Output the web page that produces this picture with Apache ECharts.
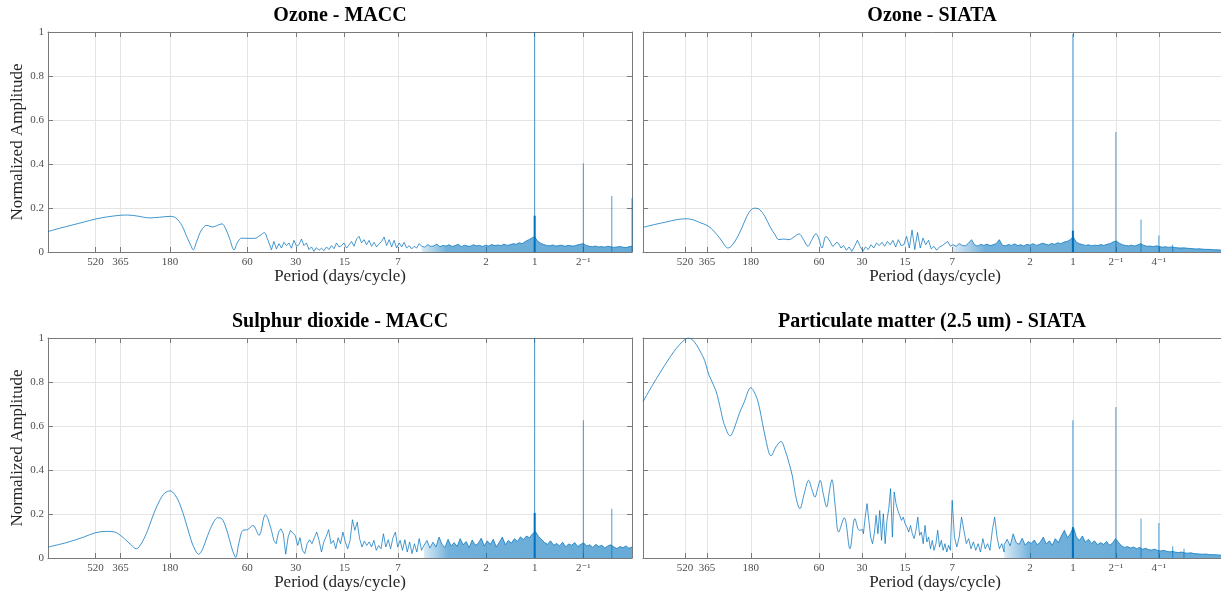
<!DOCTYPE html>
<html>
<head>
<meta charset="utf-8">
<title>Normalized amplitude spectra</title>
<script src="https://cdn.jsdelivr.net/npm/echarts@6/dist/echarts.min.js"></script>
<style>
  html, body { margin: 0; padding: 0; background: #fff; }
  #main { width: 1221px; height: 595px; }
</style>
</head>
<body>
<div id="main"></div>
<script>
// Period ticks under each panel (days/cycle)
const tickPeriods = [520, 365, 180, 60, 30, 15, 7, 2, 1, 0.5, 0.25]
const tickLabels = ['520', '365', '180', '60', '30', '15', '7', '2', '1', '2⁻¹', '4⁻¹']

const titles = ['Ozone - MACC', 'Ozone - SIATA', 'Sulphur dioxide - MACC', 'Particulate matter (2.5 um) - SIATA']
// longest / shortest period of each panel (MACC is 3-hourly, SIATA hourly)
const longestPeriod = [1024, 1024, 1024, 1024]
const shortestPeriod = [0.25, 1 / 12, 0.25, 1 / 12]

// ---- Ozone - MACC ----
// [period, amplitude] on the smooth low-frequency part
const ozoneMaccSmooth = [[1024, .093], [867, .108], [731, .122], [616, .136], [520, .150], [437, .160], [365, .167], [329, .168], [285, .163], [241, .155], [209, .158], [180, .162], [166, .155], [152, .12], [142, .07], [134, .03], [129.5, .01], [123, .05], [115, .10], [107, .121], [98, .114], [91, .122], [86, .128], [81.5, .105], [77, .06], [72.4, .01], [68.7, .045], [65, .063], [59.6, .062], [54, .062], [50, .075], [47, .088], [45, .06], [42.5, .01]]
// noisy parts: amplitudes in thousandths, evenly spread between two periods
const ozoneMaccWiggle = [{ from: 42.5, to: 5.0, amp: [10, 48, 14, 38, 18, 44, 29, 41, 17, 53, 26, 33, 59, 29, 41, 11, 23, 3, 20, 8, 17, 6, 23, 11, 29, 15, 41, 23, 29, 41, 18, 33, 48, 26, 59, 71, 41, 56, 33, 53, 26, 44, 23, 38, 48, 68, 29, 56, 23, 53, 18, 41, 23, 44, 18, 29, 14, 26, 18, 38, 26] }]
const ozoneMaccBand = { from: 5.0, to: 0.25, amp: [30, 22, 34, 25, 28, 36, 24, 30, 27, 33, 25, 29, 35, 24, 31, 27, 26, 33, 28, 30, 25, 31, 27, 34, 29, 32, 28, 36, 30, 33, 38, 35, 42, 38, 48, 55, 62, 70, 50, 40, 34, 30, 28, 32, 27, 29, 31, 26, 30, 28, 27, 32, 35, 38, 30, 26, 24, 27, 23, 25, 22, 26, 24, 21, 23, 25, 22, 20, 24, 26] }
const ozoneMaccSpikes = [[1, 1.0], [0.5, .403], [1 / 3, .255], [0.25, .245]]
const ozoneMaccCore = [[1, .165]]

// ---- Ozone - SIATA ----
const ozoneSiataSmooth = [[1024, .112], [848, .125], [698, .137], [594, .147], [514, .151], [459, .147], [410, .134], [360, .119], [327, .095], [297, .063], [278, .036], [261, .018], [244.5, .029], [225.5, .063], [208, .109], [192, .162], [177, .195], [166, .199], [155.6, .192], [143.5, .162], [132.4, .116], [122, .079], [114.5, .056], [105.6, .059], [97.4, .056], [89.8, .068], [82.9, .082], [76.5, .053], [71.7, .026], [67.2, .056], [63, .083], [60, .059], [57.2, .018], [53.6, .071], [50.2, .048], [47.9, .026], [44.9, .044], [42.1, .018]]
const ozoneSiataWiggle = [{ from: 42.1, to: 6.9, amp: [18, 29, 8, 23, 3, 26, 53, 26, 3, 23, 11, 33, 18, 41, 29, 44, 26, 48, 33, 53, 23, 56, 29, 33, 71, 18, 100, 11, 89, 18, 63, 33, 53, 14, 26, 8, 23, 29, 38, 48, 26, 33] }]
const ozoneSiataBand = { from: 6.9, to: 1 / 12, amp: [33, 26, 38, 30, 28, 40, 56, 32, 27, 35, 30, 36, 29, 33, 38, 56, 31, 28, 34, 30, 37, 29, 33, 27, 35, 31, 38, 30, 34, 40, 36, 32, 39, 35, 42, 38, 45, 48, 55, 70, 45, 38, 34, 30, 33, 28, 31, 29, 34, 30, 35, 38, 46, 50, 40, 33, 30, 28, 31, 27, 32, 38, 30, 26, 27, 24, 28, 25, 22, 24, 21, 23, 20, 19, 18, 19, 17, 16, 15, 14, 15, 13, 12, 12, 11, 10, 10, 9, 9, 8] }
const ozoneSiataSpikes = [[1, .99], [0.5, .545], [1 / 3, .147], [0.25, .075], [0.2, .033]]
const ozoneSiataCore = [[1, .097]]

// ---- Sulphur dioxide - MACC ----
const so2MaccSmooth = [[1024, .05], [867, .062], [731, .077], [616, .095], [520, .115], [444, .121], [396, .118], [365, .103], [339, .083], [315, .061], [291, .042], [270, .068], [247.6, .126], [227, .202], [208.6, .262], [194.3, .295], [180, .305], [168.6, .289], [157, .247], [144, .164], [132.3, .073], [125, .032], [119.7, .017], [113, .042], [105.3, .103], [96.7, .164], [91.3, .183], [86.3, .179], [81.5, .141], [77, .08], [73.8, .032], [70.7, .003], [67.7, .065], [63.7, .126], [59.6, .129], [55.3, .148], [50.7, .103], [46.3, .197], [44.6, .178]]
const so2MaccWiggle = [{ from: 42.5, to: 4.84, amp: [126, 80, 65, 118, 133, 110, 17, 95, 126, 113, 103, 57, 92, 35, 20, 65, 83, 65, 92, 118, 80, 27, 73, 98, 129, 65, 80, 42, 92, 65, 118, 73, 42, 80, 174, 126, 163, 88, 50, 77, 57, 73, 50, 80, 35, 57, 42, 110, 50, 83, 42, 92, 118, 50, 80, 35, 83, 27, 73, 20, 65, 27, 88, 35, 57] }]
const so2MaccBand = { from: 4.84, to: 0.25, amp: [57, 80, 45, 72, 50, 95, 62, 48, 85, 55, 70, 52, 88, 60, 75, 47, 82, 58, 66, 90, 54, 78, 62, 85, 50, 72, 95, 60, 80, 68, 88, 75, 96, 84, 100, 92, 110, 120, 98, 85, 70, 62, 78, 58, 66, 55, 72, 50, 64, 58, 70, 52, 62, 68, 55, 60, 48, 62, 52, 58, 45, 55, 60, 50, 42, 52, 47, 55, 44, 50] }
const so2MaccSpikes = [[1, 1.0], [0.5, .626], [1 / 3, .224]]
const so2MaccCore = [[1, .205]]

// ---- Particulate matter (2.5 um) - SIATA ----
const pmSiataSmooth = [[1024, .71], [880, .785], [673, .906], [573, .967], [492, 1.0], [392.5, .92], [352.7, .83], [316.6, .762], [292, .671], [277, .61], [251, .555], [235.6, .588], [217, .656], [200.5, .708], [180, .774], [166, .739], [157, .686], [141, .535], [130, .464], [120, .505], [110.8, .53], [103.4, .489], [97, .429], [91.8, .368], [88, .292], [81.6, .224], [76.1, .292], [70.9, .353], [67.5, .315], [64, .277], [61.3, .315], [58.8, .353], [56, .292], [53, .232], [50.8, .3], [48.7, .356], [46.1, .232], [43.7, .118], [39.9, .183], [36.4, .042], [33.6, .179], [31.3, .126], [29.6, .129]]
const pmSiataWiggle = [
  { from: 29.3, to: 7, amp: [110, 186, 247, 171, 95, 65, 110, 194, 110, 216, 80, 201, 65, 171, 224, 315, 95, 300, 247, 216, 194, 171, 186, 156, 141, 118, 148, 110, 88, 126, 186, 103, 118, 65, 148, 73, 95, 42, 80, 35, 65, 126, 50, 80, 35, 65, 27, 58, 35, 262] },
  { from: 6.75, to: 3.03, amp: [95, 50, 95, 186, 126, 65, 88, 42, 73, 35, 65, 27, 88, 42, 65, 35, 126, 186, 95, 42, 65, 27] },
]
const pmSiataBand = { from: 3.03, to: 1 / 12, amp: [60, 85, 55, 110, 70, 62, 90, 58, 75, 66, 82, 60, 72, 95, 64, 78, 58, 88, 70, 100, 126, 92, 110, 140, 95, 80, 100, 72, 85, 66, 78, 60, 70, 62, 75, 58, 68, 88, 70, 55, 48, 52, 45, 50, 42, 48, 40, 44, 38, 36, 40, 34, 32, 35, 30, 28, 30, 26, 25, 27, 23, 22, 24, 20, 19, 18, 17, 18, 16, 15, 15, 14, 13, 13, 12] }
const pmSiataSpikes = [[1, .626], [0.5, .686], [1 / 3, .179], [0.25, .159], [0.2, .053], [1 / 6, .042]]
const pmSiataCore = [[1, .14]]

const panels = [
  { smooth: ozoneMaccSmooth, wiggle: ozoneMaccWiggle, band: ozoneMaccBand, spikes: ozoneMaccSpikes, core: ozoneMaccCore },
  { smooth: ozoneSiataSmooth, wiggle: ozoneSiataWiggle, band: ozoneSiataBand, spikes: ozoneSiataSpikes, core: ozoneSiataCore },
  { smooth: so2MaccSmooth, wiggle: so2MaccWiggle, band: so2MaccBand, spikes: so2MaccSpikes, core: so2MaccCore },
  { smooth: pmSiataSmooth, wiggle: pmSiataWiggle, band: pmSiataBand, spikes: pmSiataSpikes, core: pmSiataCore },
]

const serif = "'Liberation Serif', 'DejaVu Serif', serif"
const blue = '#0072BD'
const axisGray = '#7a7a7a'
const gridGray = '#e4e4e4'

// x axis is log2 of frequency (cycles/day), period decreases to the right
function toX(period) {
  return Math.log2(1 / period)
}

function spread(seg) {
  const a = toX(seg.from)
  const b = toX(seg.to)
  const n = seg.amp.length
  return seg.amp.map((v, i) => [a + (b - a) * i / (n - 1), v / 1000])
}

function spikeData(list) {
  let out = []
  list.forEach(d => {
    const x = toX(d[0])
    out.push([x, 0], [x, d[1]], [x, '-'])
  })
  return out
}

function labelFor(v) {
  let best = 0
  for (let i = 0; i < tickPeriods.length; i++) {
    if (Math.abs(toX(tickPeriods[i]) - v) < Math.abs(toX(tickPeriods[best]) - v)) best = i
  }
  return tickLabels[best]
}

const layout = [
  { left: 48, top: 32, width: 584, height: 220 },
  { left: 643, top: 32, width: 584, height: 220 },
  { left: 48, top: 338, width: 584, height: 220 },
  { left: 643, top: 338, width: 584, height: 220 },
]
const titleTop = [6, 6, 312, 312]

// band fill fades in where the spectrum turns from a line into a dense band
const bandFill = {
  type: 'linear', x: 0, y: 0, x2: 1, y2: 0,
  colorStops: [
    { offset: 0, color: 'rgba(0,114,189,0.2)' },
    { offset: 0.12, color: 'rgba(0,114,189,0.8)' },
    { offset: 1, color: 'rgba(0,114,189,0.85)' },
  ],
}

let grids = []
let xAxes = []
let yAxes = []
let series = []
let titleList = []

layout.forEach((g, k) => {
  const isLeft = k % 2 === 0
  const xMin = toX(longestPeriod[k])
  const xMax = toX(shortestPeriod[k])
  const ticks = tickPeriods.map(toX).filter(v => v > xMin + 0.01 && v < xMax - 0.01)

  grids.push(Object.assign({ outerBoundsMode: 'none', containLabel: false }, g))
  titleList.push({
    text: titles[k],
    left: g.left + g.width / 2 - (isLeft ? 0 : 3),
    top: titleTop[k],
    padding: 0,
    textAlign: 'center',
    textStyle: { fontFamily: serif, fontSize: 20, fontWeight: 'bold', color: '#000' },
  })

  // bottom and top x axes (box with inward ticks)
  xAxes.push({
    type: 'value', gridIndex: k, min: xMin, max: xMax, position: 'bottom',
    name: 'Period (days/cycle)', nameLocation: 'middle', nameGap: 16, nameMoveOverlap: false,
    nameTextStyle: { fontFamily: serif, fontSize: 17, color: '#262626' },
    axisLine: { show: true, onZero: false, lineStyle: { color: axisGray, width: 1 } },
    axisTick: { show: true, inside: true, length: 5, customValues: ticks, lineStyle: { color: axisGray } },
    axisLabel: { customValues: ticks, formatter: labelFor, fontFamily: serif, fontSize: 11, color: '#4d4d4d', margin: 5 },
    splitLine: { show: true, lineStyle: { color: gridGray, width: 1 } },
  })
  xAxes.push({
    type: 'value', gridIndex: k, min: xMin, max: xMax, position: 'top',
    axisLine: { show: true, onZero: false, lineStyle: { color: axisGray, width: 1 } },
    axisTick: { show: true, inside: true, length: 5, customValues: ticks, lineStyle: { color: axisGray } },
    axisLabel: { show: false, customValues: ticks },
    splitLine: { show: false },
  })
  yAxes.push({
    type: 'value', gridIndex: k, min: 0, max: 1, interval: 0.2, position: 'left',
    name: isLeft ? 'Normalized Amplitude' : '', nameLocation: 'middle', nameGap: 22, nameMoveOverlap: false,
    nameTextStyle: { fontFamily: serif, fontSize: 17, color: '#262626' },
    axisLine: { show: true, onZero: false, lineStyle: { color: axisGray, width: 1 } },
    axisTick: { show: true, inside: true, length: 5, lineStyle: { color: axisGray } },
    axisLabel: { show: isLeft, fontFamily: serif, fontSize: 11, color: '#4d4d4d', margin: 4 },
    splitLine: { show: true, lineStyle: { color: gridGray, width: 1 } },
  })
  yAxes.push({
    type: 'value', gridIndex: k, min: 0, max: 1, interval: 0.2, position: 'right',
    axisLine: { show: true, onZero: false, lineStyle: { color: axisGray, width: 1 } },
    axisTick: { show: true, inside: true, length: 5, lineStyle: { color: axisGray } },
    axisLabel: { show: false },
    splitLine: { show: false },
  })

  const p = panels[k]
  const axisRef = { xAxisIndex: 2 * k, yAxisIndex: 2 * k }

  // smooth low frequency curve
  const smoothPts = p.smooth.map(d => [toX(d[0]), d[1]])
  series.push(Object.assign({
    type: 'line', data: smoothPts, smooth: 0.35, symbol: 'none',
    lineStyle: { color: blue, width: 1, opacity: 0.75 }, z: 3,
  }, axisRef))

  // wiggly mid range
  let last = smoothPts[smoothPts.length - 1]
  p.wiggle.forEach(seg => {
    const pts = spread(seg)
    series.push(Object.assign({
      type: 'line', data: [last].concat(pts), symbol: 'none',
      lineStyle: { color: blue, width: 0.9, opacity: 0.8 }, z: 3,
    }, axisRef))
    last = pts[pts.length - 1]
  })

  // dense noise band at high frequency
  const bandPts = spread(p.band)
  series.push(Object.assign({
    type: 'line', data: [last].concat(bandPts), symbol: 'none',
    lineStyle: { color: blue, width: 0.8, opacity: 0.9 },
    areaStyle: { color: bandFill }, z: 3,
  }, axisRef))

  // harmonic spikes (1, 1/2, 1/3 ... days)
  series.push(Object.assign({
    type: 'line', data: spikeData(p.spikes), symbol: 'none', connectNulls: false,
    lineStyle: { color: blue, width: 1, opacity: 0.7 }, z: 4,
  }, axisRef))
  series.push(Object.assign({
    type: 'line', data: spikeData(p.core), symbol: 'none', connectNulls: false,
    lineStyle: { color: blue, width: 2 }, z: 5,
  }, axisRef))
})

let myChart = echarts.init(document.getElementById('main'), null, { renderer: 'canvas' })
let option = {
  animation: false,
  backgroundColor: '#fff',
  title: titleList,
  grid: grids,
  xAxis: xAxes,
  yAxis: yAxes,
  series: series,
}
myChart.setOption(option)
</script>
</body>
</html>
